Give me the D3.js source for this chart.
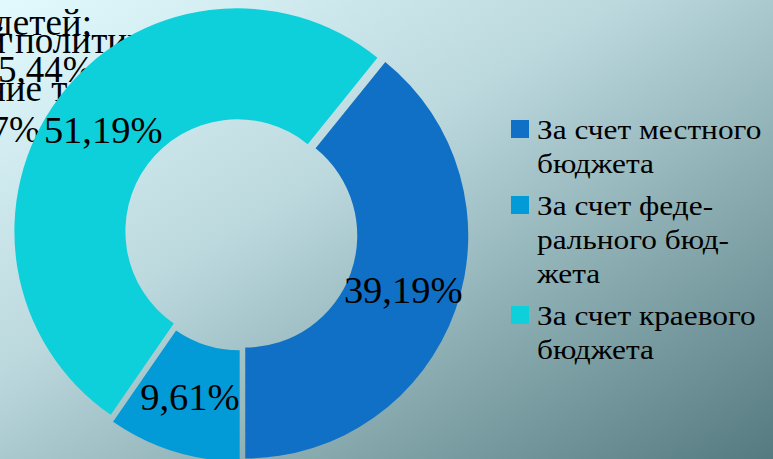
<!DOCTYPE html>
<html>
<head>
<meta charset="utf-8">
<script src="https://cdn.jsdelivr.net/npm/d3@7"></script>
<style>
  html, body { margin: 0; padding: 0; overflow: hidden; }
  svg text { font-family: "Liberation Serif", Tinos, "Times New Roman", "DejaVu Serif", serif; }
</style>
</head>
<body>
<svg id="chart" width="773" height="459"></svg>
<script>
// Budget shares (percent), order as in legend
const categories = ["За счет местного бюджета", "За счет федерального бюджета", "За счет краевого бюджета"];
const shares = [39.19, 9.61, 51.19];
const sliceColors = ["#1070c6", "#039bd7", "#0dd0da"];
// legend text broken into lines as in the picture
const legendLines = [
    ["За счет местного", "бюджета"],
    ["За счет феде-", "рального бюд-", "жета"],
    ["За счет краевого", "бюджета"]
];
// leftover label text peeking out behind the donut (top left corner)
const strayTexts = ["детей;", "й политики", "5,44%", "ние т", "47%"];

const width = 773, height = 459;
const svg = d3.select("#chart");

// background gradient
let defs = svg.append("defs");
let grad = defs.append("linearGradient")
    .attr("id", "bg")
    .attr("x1", 0).attr("y1", 0)
    .attr("x2", 1).attr("y2", 1);
grad.append("stop").attr("offset", 0).attr("stop-color", "#e2fafe");
grad.append("stop").attr("offset", 0.4).attr("stop-color", "#bcd9de");
grad.append("stop").attr("offset", 0.66).attr("stop-color", "#8eb0b5");
grad.append("stop").attr("offset", 1).attr("stop-color", "#557a80");

svg.append("rect")
    .attr("width", width)
    .attr("height", height)
    .attr("fill", "url(#bg)");

// stray text fragments, drawn first so the donut covers them
let strayPos = [[-6, 35], [-14, 53], [-2, 82], [-14, 101], [-28, 142]];
svg.append("g").selectAll("text")
    .data(strayTexts).enter()
    .append("text")
    .attr("x", (d, i) => strayPos[i][0])
    .attr("y", (d, i) => strayPos[i][1])
    .attr("font-size", 37)
    .attr("fill", "#000")
    .text(d => d);

// donut
let cx = 241, cy = 234;
let outerR = 223, innerR = 112;
let explode = 4.5;
let start = 38.9 * Math.PI / 180;

let pie = d3.pie()
    .sort(null)
    .value(d => d)
    .startAngle(start)
    .endAngle(start + 2 * Math.PI);

let arc = d3.arc()
    .innerRadius(innerR)
    .outerRadius(outerR);

let arcs = pie(shares);

let g = svg.append("g")
    .attr("transform", `translate(${cx},${cy})`);

// offset of each slice along its middle angle
let shift = d => {
    let a = (d.startAngle + d.endAngle) / 2;
    return [Math.sin(a) * explode, -Math.cos(a) * explode];
};

g.selectAll("path")
    .data(arcs).enter()
    .append("path")
    .attr("d", arc)
    .attr("fill", (d, i) => sliceColors[i])
    .attr("transform", d => `translate(${shift(d)[0]},${shift(d)[1]})`);

g.selectAll("text.value")
    .data(arcs).enter()
    .append("text")
    .attr("class", "value")
    .attr("transform", d => {
        let c = arc.centroid(d), s = shift(d);
        return `translate(${c[0] + s[0]},${c[1] + s[1] + 12}) scale(1.04,1)`;
    })
    .attr("text-anchor", "middle")
    .attr("font-size", 37)
    .attr("fill", "#000")
    .text(d => d.data.toFixed(2).replace(".", ",") + "%");

// legend
let legendX = 511, lineH = 34, itemGap = 8;
let legend = svg.append("g");
let y = 139;
legendLines.forEach((lines, i) => {
    let item = legend.append("g").attr("class", "legend-item").datum(categories[i]);
    item.append("rect")
        .attr("x", legendX)
        .attr("y", y - 19)
        .attr("width", 18)
        .attr("height", 18)
        .attr("fill", sliceColors[i]);
    let baseY = y;
    item.selectAll("text")
        .data(lines).enter()
        .append("text")
        .attr("transform", (d, j) => `translate(${legendX + 26},${baseY + j * lineH}) scale(1.12,1)`)
        .attr("font-size", 28)
        .attr("fill", "#000")
        .text(d => d);
    y += lines.length * lineH + itemGap;
});
</script>
</body>
</html>
